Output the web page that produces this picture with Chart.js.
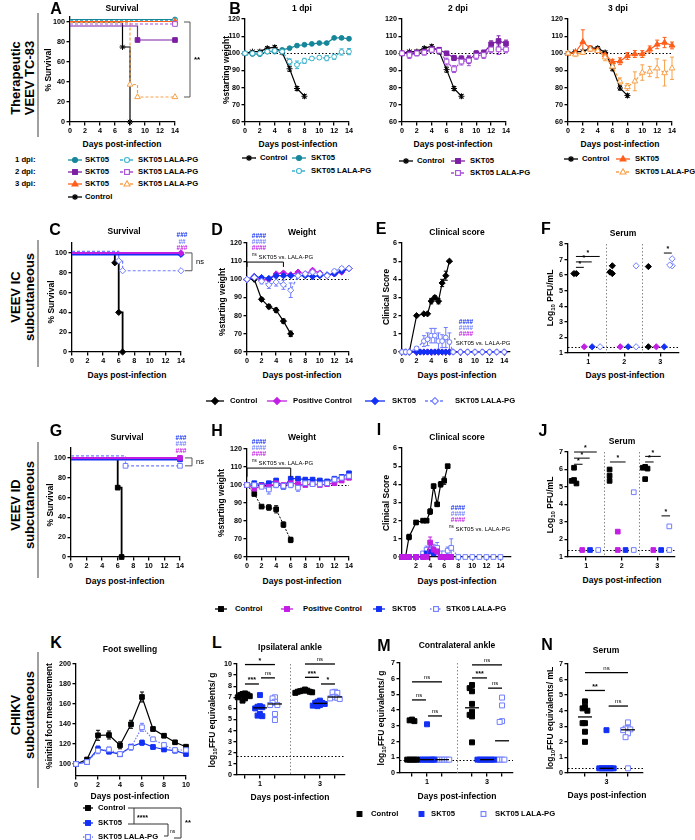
<!DOCTYPE html>
<html>
<head>
<meta charset="utf-8">
<script src="https://cdn.jsdelivr.net/npm/chart.js@4.4.1/dist/chart.umd.min.js"></script>
<style>
  html, body { margin: 0; padding: 0; background: #fff; }
  body { position: relative; width: 695px; height: 840px; overflow: hidden; font-family: "Liberation Sans", Arial, sans-serif; }
  canvas { position: absolute; }
  .t { position: absolute; white-space: nowrap; line-height: 1; color: #000; }
  .t sub { font-size: 70%; vertical-align: -2px; }
  .t sup { font-size: 75%; vertical-align: 3px; }
  .lg { position: absolute; line-height: 0; }
  .bar { position: absolute; width: 1.5px; background: #a0a0a0; }
</style>
</head>
<body>
<script>
// ---- values ----

// A: survival after TC-83 (event days / % alive)
const aCtrlDay = [0, 7, 8],       aCtrlPct = [100, 75, 0];
const a1SktDay = [0, 14],         a1SktPct = [102.5, 102.5];
const a1LalaDay = [0, 14],        a1LalaPct = [101.5, 101.5];
const a2SktDay = [0, 9, 14],      a2SktPct = [96, 82, 82];
const a2LalaDay = [0, 14],        a2LalaPct = [98, 98];
const a3SktDay = [0, 14],         a3SktPct = [100.5, 100.5];
const a3LalaDay = [0, 8, 9, 14],  a3LalaPct = [99.5, 37.5, 25, 25];

// B: % starting weight
const days14 = [0, 1, 2, 3, 4, 5, 6, 7, 8, 9, 10, 11, 12, 13, 14];
const days8 = [0, 1, 2, 3, 4, 5, 6, 7, 8];
const b1Ctrl = [100, 101, 101, 103, 103.5, 100.5, 91, 79.5, 75];
const b1Skt = [100, 99.6, 99.5, 101, 101, 102, 103, 104.5, 105, 105.5, 106, 106, 109, 109, 108.5];
const b1Lala = [100, 100, 100, 101, 101.5, 101, 95.2, 93.3, 95.6, 97, 97.5, 97.2, 98, 100.8, 101];
const b2Ctrl = [100, 101, 101, 103, 104, 101, 90.5, 79.5, 75];
const b2Skt = [100, 100, 100.5, 101, 102.5, 102, 100, 97.3, 97, 96.2, 100, 100.4, 105.3, 107.2, 105.7];
const b2Lala = [100, 99, 100, 100.5, 102, 101.5, 95.2, 90.8, 95.2, 95.8, 98.5, 99, 102.3, 102.3, 102.3];
const b3Ctrl = [100, 101, 101, 103, 103, 100.5, 91.3, 79.8, 75.4];
const b3Skt = [100, 100.6, 106.7, 102.9, 101.9, 99, 95, 95.4, 98.5, 99.6, 99.6, 102.3, 105.2, 106.3, 104.6];
const b3Lala = [100, 99.4, 100.4, 102.3, 101.5, 97.7, 92.3, 83.7, 80.4, 83.7, 88.8, 89.4, 91.3, 88.5, 91.3];
const bCtrlErr = [0, 0.6, 0.8, 0.8, 1, 0.8, 1.5, 1.2, 1];
const b1SktErr = [0, 0.5, 0.5, 0.6, 0.6, 0.6, 0.6, 0.8, 0.8, 0.6, 0.6, 0.8, 0.8, 0.8, 0.8];
const b1LalaErr = [0, 0.8, 0.8, 0.8, 0.8, 0.8, 1.6, 2.2, 1.5, 1, 1, 1.5, 1.5, 1.8, 1.8];
const b2SktErr = [0, 1, 1, 1, 1, 1, 1, 1.5, 1.5, 2, 1.5, 1.5, 2, 3, 2];
const b2LalaErr = [0, 2, 1.5, 1.5, 1.5, 2, 2, 2, 2, 3, 2, 2, 2, 3, 2];
const b3SktErr = [0, 1, 7, 1.5, 1.5, 1.5, 1.5, 2, 2, 2, 2, 2, 2.5, 3, 2];
const b3LalaErr = [0, 1, 1, 1, 1, 2, 2, 2, 2, 5.5, 4.5, 3, 5.5, 7.5, 6.5];

// C: survival VEEV IC
const cCtrlDay = [0, 5.5, 6, 6.5],   cCtrlPct = [100, 90, 40, 0];
const cPosDay = [0, 14],             cPosPct = [100, 100];
const cSktDay = [0, 14],             cSktPct = [98.5, 98.5];
const cLalaDay = [0, 6, 6.5, 14],    cLalaPct = [101.5, 92, 82, 82];

// D: weight VEEV IC
const days6 = [0, 1, 2, 3, 4, 5, 6];
const dCtrl = [100, 100, 89, 85, 83, 77, 70];
const dPos = [100, 101.5, 99.5, 100, 103, 103.5, 102.5, 104, 103, 105, 103.5, 102, 103, 104, 106];
const dSkt = [100, 101.5, 101, 100.5, 102, 102, 102, 102, 102, 101.5, 102, 102.5, 103, 104.5, 106];
const dLala = [100, 101, 99, 97, 98.5, 97, 94, 102, 103, 104, 103, 102, 104.5, 106, 106];
const dCtrlErr = [0, 0.5, 0.8, 1.2, 1.2, 1.2, 1.5];
const dLalaErr = [0, 0.8, 1.5, 2, 2.2, 2.5, 4, 1, 1, 1, 1, 1, 1, 1, 1];

// E: clinical score VEEV IC
const eCtrlDay = [0, 0.5, 1, 2, 3, 3.5, 4, 4.5, 5, 5.5, 6, 6.5];
const eCtrl = [0, 0, 0, 2, 2.1, 2.1, 2.8, 3, 2.8, 3.8, 4.2, 5];
const eCtrlErr = [0, 0, 0, 0, 0, 0, 0.15, 0.1, 0.15, 0.2, 0.25, 0];
const eLalaDay = [0, 0.5, 1, 2, 3, 3.5, 4, 4.5, 5, 5.5, 6, 6.5, 7, 8, 9, 10, 11, 12, 13, 14];
const eLala = [0, 0, 0, 0.2, 0.6, 0.7, 0.9, 0.9, 0.6, 0.6, 0.8, 0.55, 0, 0, 0, 0, 0, 0, 0, 0];
const eLalaErr = [0, 0, 0, 0.1, 0.3, 0.35, 0.4, 0.4, 0.45, 0.35, 0.55, 0.5, 0, 0, 0, 0, 0, 0, 0, 0];
const eZeroDay = [0, 0.5, 1, 2, 2.5, 3, 3.5, 4, 4.5, 5, 5.5, 6, 6.5, 7, 8, 9, 10, 11, 12, 13, 14];
const eZero = [0, 0, 0, 0, 0, 0, 0, 0, 0, 0, 0, 0, 0, 0, 0, 0, 0, 0, 0, 0, 0];

// F: serum titre VEEV IC, per day 1/2/3
const fCtrl = [[6.1, 6.1], [6.6, 6.1, 6.2], [6.55, 1.4]];
const fPos = [[1.4], [1.4], [1.4]];
const fSkt = [[1.4], [1.4], [1.4]];
const fLala = [[1.4], [6.6, 1.4], [7.05, 6.6, 6.65]];

// G: survival VEEV ID
const gCtrlDay = [0, 6, 6.5],    gCtrlPct = [100, 70, 0];
const gPosDay = [0, 14],         gPosPct = [100, 100];
const gSktDay = [0, 14],         gSktPct = [98.5, 98.5];
const gLalaDay = [0, 7, 14],     gLalaPct = [102, 92, 92];

// H: weight VEEV ID
const hCtrl = [100, 95, 88, 87.5, 86.5, 78, 69.5];
const hPos = [100, 98, 99.5, 99, 101, 100, 101, 100.5, 100, 100.5, 100, 100.5, 101, 102.5, 104];
const hSkt = [100, 101, 100, 101, 102.5, 99, 103.5, 103.5, 103, 103, 102.5, 102, 103.5, 104.5, 106.5];
const hLala = [100, 100, 99, 97.5, 100, 99.5, 100, 98.5, 101, 100.5, 100.5, 101, 103, 104, 105];
const hCtrlErr = [0, 0.5, 0.5, 1.5, 2, 1.5, 1.5];
const hLalaErr = [0, 1, 1, 2.5, 1.5, 1, 1.5, 2, 1, 1, 1, 1, 1, 1, 1];

// I: clinical score VEEV ID
const iCtrlDay = [0, 0.5, 1, 2, 3, 3.5, 4, 4.5, 5, 5.5, 6, 6.5];
const iCtrl = [0, 0, 1.1, 1.9, 2, 2, 2.5, 3.9, 2.9, 4, 4.2, 5];
const iCtrlErr = [0, 0, 0.15, 0.1, 0, 0, 0.15, 0.1, 0.1, 0.15, 0.2, 0];
const iMidDay = [0, 0.5, 1, 2, 3, 3.5, 4, 4.5, 5, 5.5, 6, 6.5, 7];
const iPos = [0, 0, 0, 0, 0, 0, 0.8, 0.4, 0.3, 0, 0, 0, 0];
const iPosErr = [0, 0, 0, 0, 0, 0, 0.3, 0.2, 0, 0, 0, 0, 0];
const iSkt = [0, 0, 0, 0, 0, 0.2, 0.3, 0.2, 0.3, 0, 0, 0, 0];
const iLalaDay = [0, 0.5, 1, 2, 3, 3.5, 4, 4.5, 5, 5.5, 6, 6.5, 7, 8, 9, 10, 11, 12, 13, 14];
const iLala = [0, 0, 0, 0, 0.2, 0.4, 0.4, 0.4, 0.5, 0.2, 0.2, 0.35, 0.5, 0, 0, 0, 0, 0, 0, 0];
const iLalaErr = [0, 0, 0, 0, 0.1, 0.2, 0.2, 0.3, 0.3, 0.1, 0.1, 0.2, 0.5, 0, 0, 0, 0, 0, 0, 0];

// J: serum titre VEEV ID
const jCtrl = [[6.1, 5.4, 5.35, 5.2], [6.0, 5.65, 5.35], [6.15, 6.1, 6.05, 5.45]];
const jPos = [[1.4], [2.45, 1.4], [1.4]];
const jSkt = [[1.4], [1.4], [1.4]];
const jLala = [[1.4], [4.7, 1.4], [2.75, 1.4]];

// K: foot swelling CHIKV
const days10 = [0, 1, 2, 3, 4, 5, 6, 7, 8, 9, 10];
const kCtrl = [100, 104.5, 128.7, 129, 118.7, 139.7, 167, 135, 128.3, 121.7, 117.3];
const kSkt = [100, 102, 115, 112.3, 109.7, 117.3, 121.3, 117, 114.5, 113.3, 110];
const kLala = [100, 102, 113.3, 114.5, 110, 116.7, 136.7, 124.7, 119, 114, 114];
const kCtrlErr = [0, 1.5, 5, 4, 3.5, 4, 5, 2, 2, 1.5, 1.5];
const kSktErr = [0, 1.5, 3, 2, 2, 2, 2.5, 2, 2, 2, 2];
const kLalaErr = [0, 1.5, 3, 2.5, 2, 3, 4, 2, 2, 2, 2];

// L: ipsilateral ankle (day 1, day 3)
const lCtrl = [[7.35, 7.3, 7.25, 7.2, 7.1, 7.0, 6.9, 6.7], [7.7, 7.6, 7.6, 7.55, 7.5, 7.5, 7.45, 7.4]];
const lSkt = [[7.2, 6.2, 6.15, 6.1, 6.0, 5.5, 5.35, 5.3], [6.7, 6.6, 6.5, 6.5, 6.4, 6.3, 6.25, 6.2]];
const lLala = [[7.0, 6.9, 6.6, 6.5, 6.3, 6.3, 5.5, 4.95], [7.5, 7.45, 7.4, 7.05, 7.0, 6.95, 6.9, 6.85]];

// M: contralateral ankle
const mCtrl = [[3.4, 3.35, 3.3, 0.85, 0.85, 0.85, 0.85, 0.85], [5.6, 5.4, 5.2, 4.4, 3.9, 3.7, 3.6, 1.95]];
const mSkt = [[3.1, 0.85, 0.85, 0.85, 0.85, 0.85, 0.85, 0.85], [0.85, 0.85, 0.85, 0.85, 0.85, 0.85, 0.85, 0.85]];
const mLala = [[0.85, 0.85, 0.85, 0.85, 0.85, 0.85, 0.85, 0.85], [4.8, 4.3, 3.3, 3.25, 0.85, 0.85, 0.85, 0.85]];

// N: serum CHIKV day 3
const nCtrl = [4.6, 4.25, 4.15, 4.0, 3.2, 3.2, 2.65, 2.0];
const nSkt = [2.75, 0.3, 0.3, 0.3, 0.3, 0.3, 0.3, 0.3];
const nLala = [3.25, 2.9, 2.85, 2.8, 2.75, 2.55, 2.3, 0.3];

// tick values / labels
const tk14 = [0, 2, 4, 6, 8, 10, 12, 14];
const tkI = [2, 4, 6, 8, 10, 12, 14];
const tkSurv = [0, 20, 40, 60, 80, 100];
const tkWeight = [60, 70, 80, 90, 100, 110, 120];
const tkScore = [0, 1, 2, 3, 4, 5, 6];
const tkDpi = [1, 2, 3];
const tkPfuF = [1, 2, 3, 4, 5, 6, 7, 8];
const tkPfuJ = [1, 2, 3, 4, 5, 6, 7];
const tkFootX = [0, 2, 4, 6, 8, 10];
const tkFoot = [100, 120, 140, 160, 180, 200];
const tkAnkleX = [1, 2, 3, 5, 6, 7];
const lbAnkleX = ['', '1', '', '', '3', ''];
const tkL = [0, 1, 2, 3, 4, 5, 6, 7, 8, 9, 10];
const tk7 = [0, 1, 2, 3, 4, 5, 6, 7];
const lbN = ['', '3', ''];

// ---- drawing ----
const FONT = '"Liberation Sans", Arial, sans-serif';
Chart.defaults.font.family = FONT;

const C_T = '#16879b', C_TL = '#3db4cc';
const C_P = '#7c1fa3', C_PL = '#a64fd8';
const C_O = '#ff5e1a', C_OL = '#f8a048';
const C_M = '#c21ee3', C_B = '#1230f5', C_BL = '#6f7dff';

const extras = {
  id: 'extras',
  beforeDatasetsDraw(chart, args, o) {
    const { ctx, chartArea: a, scales: { x, y } } = chart;
    ctx.save();
    ctx.lineWidth = 1;
    ctx.setLineDash([1.5, 2]);
    ctx.strokeStyle = '#000';
    (o.hl || []).forEach(v => {
      const py = Math.round(y.getPixelForValue(v)) + 0.5;
      ctx.beginPath(); ctx.moveTo(a.left, py); ctx.lineTo(a.right, py); ctx.stroke();
    });
    ctx.strokeStyle = '#888';
    (o.vl || []).forEach(v => {
      const px = Math.round(x.getPixelForValue(v)) + 0.5;
      ctx.beginPath(); ctx.moveTo(px, a.top); ctx.lineTo(px, a.bottom); ctx.stroke();
    });
    ctx.setLineDash([]);
    chart.data.datasets.forEach(ds => {
      if (!ds.errors) return;
      ctx.strokeStyle = ds.borderColor;
      ds.data.forEach((p, j) => {
        const e = ds.errors[j];
        if (!e) return;
        const px = x.getPixelForValue(p.x), t = y.getPixelForValue(p.y + e), b = y.getPixelForValue(p.y - e);
        ctx.beginPath();
        ctx.moveTo(px, t); ctx.lineTo(px, b);
        ctx.moveTo(px - 2, t); ctx.lineTo(px + 2, t);
        ctx.moveTo(px - 2, b); ctx.lineTo(px + 2, b);
        ctx.stroke();
      });
    });
    ctx.restore();
  },
  afterDatasetsDraw(chart, args, o) {
    const { ctx, chartArea: a, scales: { x, y } } = chart;
    ctx.save();
    ctx.strokeStyle = '#000';
    ctx.fillStyle = '#000';
    ctx.lineWidth = 1.3;
    (o.md || []).forEach(m => {
      const px = x.getPixelForValue(m.x), py = y.getPixelForValue(m.y);
      ctx.beginPath(); ctx.moveTo(px - 7, py); ctx.lineTo(px + 7, py); ctx.stroke();
    });
    ctx.lineWidth = o.sw || 1;
    ctx.textAlign = 'center';
    ctx.textBaseline = 'bottom';
    (o.sig || []).forEach(s => {
      const x1 = x.getPixelForValue(s.x1), x2 = x.getPixelForValue(s.x2), py = y.getPixelForValue(s.y);
      ctx.beginPath();
      if (s.tk) {
        const pt = y.getPixelForValue(s.y - s.tk);
        ctx.moveTo(x1, pt); ctx.lineTo(x1, py); ctx.lineTo(x2, py); ctx.lineTo(x2, pt);
      } else {
        ctx.moveTo(x1, py); ctx.lineTo(x2, py);
      }
      ctx.stroke();
      if (s.t) {
        ctx.font = (s.t === 'ns' ? '6px ' : 'bold 7px ') + FONT;
        ctx.fillText(s.t, (x1 + x2) / 2, py - (s.t === 'ns' ? 1.5 : 0));
      }
    });
    ctx.strokeStyle = '#555';
    ctx.lineWidth = 1;
    ctx.textAlign = 'left';
    ctx.textBaseline = 'middle';
    (o.vbr || []).forEach(b => {
      const px = a.right + b.dx, y1 = y.getPixelForValue(b.y1), y2 = y.getPixelForValue(b.y2);
      ctx.beginPath();
      ctx.moveTo(px, y1); ctx.lineTo(px + b.w, y1); ctx.lineTo(px + b.w, y2); ctx.lineTo(px, y2);
      ctx.stroke();
      ctx.font = (b.t === 'ns' ? '7.5px ' : 'bold 8px ') + FONT;
      ctx.fillText(b.t, px + b.w + 4, (y1 + y2) / 2);
    });
    ctx.restore();
  }
};
Chart.register(extras);

function pts(xs, ys) { return xs.map((x, i) => ({ x: x, y: ys[i] })); }

const RAD = { circle: 2.4, rect: 3.3, rectRot: 3.1, triangle: 3.3, star: 3 };

function ser(xs, ys, st) {
  const r = st.r || RAD[st.shape] || 3;
  return {
    data: pts(xs, ys),
    borderColor: st.c,
    backgroundColor: st.c,
    borderWidth: st.lw || 1.2,
    borderDash: st.dash || [],
    pointStyle: st.shape,
    pointRadius: st.skip0 ? (c => c.dataIndex === 0 ? 0 : r) : r,
    pointBorderWidth: 1,
    pointBackgroundColor: st.open ? '#fff' : st.c,
    pointBorderColor: st.c,
    showLine: st.line !== false,
    stepped: st.step ? 'before' : false,
    tension: 0,
    clip: false,
    errors: st.err || null
  };
}

// spread points of one group sideways so they do not sit on each other
function swarm(xc, vals, dxU, dyU) {
  const placed = [];
  const order = [0, -1, 1, -2, 2, -3, 3, -4, 4, -5, 5];
  return vals.map(v => {
    let px = xc;
    for (const k of order) {
      const cx = xc + k * dxU;
      if (!placed.some(p => Math.abs(p.y - v) < dyU && Math.abs(p.x - cx) < dxU * 0.99)) { px = cx; break; }
    }
    const p = { x: px, y: v };
    placed.push(p);
    return p;
  });
}

function dots(centers, groups, st, g, xs, ys) {
  const dxU = 2.4 * (xs.max - xs.min) / (g.x1 - g.x0);
  const dyU = 4.2 * (ys.max - ys.min) / (g.y1 - g.y0);
  const d = ser([], [], Object.assign({ line: false }, st));
  groups.forEach((vals, k) => swarm(centers[k], vals, dxU, dyU).forEach(p => d.data.push(p)));
  return d;
}

function median(v) {
  const s = v.slice().sort((a, b) => a - b), n = s.length;
  return n % 2 ? s[(n - 1) / 2] : (s[n / 2 - 1] + s[n / 2]) / 2;
}
function medians(centers, groups) { return groups.map((v, k) => ({ x: centers[k], y: median(v) })); }

function axis(s, pos, size) {
  return {
    type: 'linear', position: pos, min: s.min, max: s.max,
    border: { display: true, color: '#000', width: 1.3 },
    grid: { drawOnChartArea: false, drawTicks: true, tickLength: 3.5, color: '#000', lineWidth: 1.3 },
    ticks: {
      color: '#000', font: { size: 7.2, weight: 'bold' }, padding: 1.5, autoSkip: false, maxRotation: 0,
      callback: (v, i) => s.labels ? s.labels[i] : v
    },
    afterBuildTicks: sc => { sc.ticks = s.ticks.map(v => ({ value: v })); },
    afterFit: sc => {
      if (pos === 'bottom') sc.height = size; else sc.width = size;
      sc.paddingLeft = sc.paddingRight = sc.paddingTop = sc.paddingBottom = 0;
    }
  };
}

function plot(g, datasets, xs, ys, ex, pad) {
  pad = Object.assign({ L: 30, R: 12, T: 10, B: 16 }, pad || {});
  const x0 = Math.round(g.x0), x1 = Math.round(g.x1), y0 = Math.round(g.y0), y1 = Math.round(g.y1);
  const w = x1 - x0 + pad.L + pad.R, h = y1 - y0 + pad.T + pad.B;
  const cv = document.createElement('canvas');
  cv.width = w; cv.height = h;
  cv.style.left = (x0 - pad.L) + 'px';
  cv.style.top = (y0 - pad.T) + 'px';
  document.body.appendChild(cv);
  new Chart(cv, {
    type: 'line',
    data: { datasets: datasets },
    options: {
      responsive: false, animation: false, devicePixelRatio: 1, events: [],
      layout: { padding: { left: 0, top: pad.T, right: pad.R, bottom: 0 } },
      plugins: { legend: { display: false }, tooltip: { enabled: false }, extras: ex || {} },
      scales: { x: axis(xs, 'bottom', pad.B), y: axis(ys, 'left', pad.L) }
    }
  });
}

function T(html, x, y, o) {
  o = o || {};
  const d = document.createElement('div');
  d.className = 't';
  d.innerHTML = html;
  d.style.left = x + 'px';
  d.style.top = y + 'px';
  d.style.fontSize = (o.s || 8.5) + 'px';
  d.style.fontWeight = o.n ? 'normal' : 'bold';
  if (o.c) d.style.color = o.c;
  d.style.transform = (o.a === 'l' ? 'translate(0,-50%)' : 'translate(-50%,-50%)') + (o.r ? ' rotate(-90deg)' : '');
  document.body.appendChild(d);
}

function mk(st, w) {
  const c = st.c, f = st.open ? '#fff' : c, m = w / 2;
  let s = '';
  if (st.line !== false) s += `<line x1="0" y1="5" x2="${w}" y2="5" stroke="${c}" stroke-width="1.3"${st.dash ? ` stroke-dasharray="${st.dash.join(' ')}"` : ''}/>`;
  const a = `fill="${f}" stroke="${c}" stroke-width="1.1"`;
  if (st.shape === 'circle') s += `<circle cx="${m}" cy="5" r="2.5" ${a}/>`;
  else if (st.shape === 'rect') s += `<rect x="${m - 2.4}" y="2.6" width="4.8" height="4.8" ${a}/>`;
  else if (st.shape === 'triangle') s += `<polygon points="${m},1.8 ${m + 3},7 ${m - 3},7" ${a}/>`;
  else if (st.shape === 'rectRot') s += `<polygon points="${m},1.6 ${m + 3.4},5 ${m},8.4 ${m - 3.4},5" ${a}/>`;
  else if (st.shape === 'star') s += `<path d="M${m - 3} 5H${m + 3}M${m} 2V8M${m - 2.2} 2.8L${m + 2.2} 7.2M${m + 2.2} 2.8L${m - 2.2} 7.2" stroke="${c}" stroke-width="1.2"/>`;
  return `<svg width="${w}" height="10">${s}</svg>`;
}

function leg(x, y, st, text, w, tx) {
  const d = document.createElement('div');
  d.className = 'lg';
  d.style.left = x + 'px';
  d.style.top = (y - 5) + 'px';
  d.innerHTML = mk(st, w);
  document.body.appendChild(d);
  T(text, tx, y, { s: 7.7, a: 'l' });
}

function bar(x, y1, y2) {
  const d = document.createElement('div');
  d.className = 'bar';
  d.style.left = x + 'px'; d.style.top = y1 + 'px'; d.style.height = (y2 - y1) + 'px';
  document.body.appendChild(d);
}

// styles
const sCtrlStar = { c: '#000', shape: 'star' };
const s1Skt = { c: C_T, shape: 'circle' }, s1Lala = { c: C_TL, shape: 'circle', open: true, dash: [3, 2] };
const s2Skt = { c: C_P, shape: 'rect' }, s2Lala = { c: C_PL, shape: 'rect', open: true, dash: [3, 2] };
const s3Skt = { c: C_O, shape: 'triangle' }, s3Lala = { c: C_OL, shape: 'triangle', open: true, dash: [3, 2] };
const sCtrlD = { c: '#000', shape: 'rectRot' }, sPosD = { c: C_M, shape: 'rectRot' };
const sSktD = { c: C_B, shape: 'rectRot' }, sLalaD = { c: C_BL, shape: 'rectRot', open: true, dash: [3, 2] };
const sCtrlS = { c: '#000', shape: 'rect' }, sPosS = { c: C_M, shape: 'rect' };
const sSktS = { c: C_B, shape: 'rect' }, sLalaS = { c: C_BL, shape: 'rect', open: true, dash: [1.5, 1.5] };
const st = (base, more) => Object.assign({}, base, more);

// ---- row 1: therapeutic TC-83 ----
const xs14 = { min: 0, max: 14, ticks: tk14 };
const ysW = { min: 60, max: 120, ticks: tkWeight };
const GA = { x0: 70, x1: 175, y0: 17, y1: 122 };
plot(GA, [
  ser(a2LalaDay, a2LalaPct, st(s2Lala, { step: 1, skip0: 1 })),
  ser(a2SktDay, a2SktPct, st(s2Skt, { step: 1, skip0: 1 })),
  ser(a3LalaDay, a3LalaPct, st(s3Lala, { step: 1, skip0: 1 })),
  ser(a3SktDay, a3SktPct, st(s3Skt, { step: 1, skip0: 1 })),
  ser(a1LalaDay, a1LalaPct, st(s1Lala, { step: 1, skip0: 1 })),
  ser(a1SktDay, a1SktPct, st(s1Skt, { step: 1, skip0: 1 })),
  ser(aCtrlDay, aCtrlPct, st(sCtrlStar, { step: 1, skip0: 1 }))
], xs14, { min: 0, max: 105, ticks: tkSurv }, { vbr: [{ y1: 100, y2: 25, dx: 9, w: 6, t: '**' }] }, { R: 34 });

const GB = [{ x0: 245, x1: 349 }, { x0: 402, x1: 506 }, { x0: 568, x1: 672 }];
const bSets = [
  [b1Ctrl, b1Skt, b1Lala, b1SktErr, b1LalaErr, s1Skt, s1Lala],
  [b2Ctrl, b2Skt, b2Lala, b2SktErr, b2LalaErr, s2Skt, s2Lala],
  [b3Ctrl, b3Skt, b3Lala, b3SktErr, b3LalaErr, s3Skt, s3Lala]
];
bSets.forEach((b, k) => {
  plot({ x0: GB[k].x0, x1: GB[k].x1, y0: 19, y1: 122 }, [
    ser(days14, b[2], st(b[6], { err: b[4] })),
    ser(days14, b[1], st(b[5], { err: b[3] })),
    ser(days8, b[0], st(sCtrlStar, { err: bCtrlErr }))
  ], xs14, ysW, { hl: [100] });
});

// ---- row 2: VEEV IC ----
plot({ x0: 72, x1: 181, y0: 243, y1: 352 }, [
  ser(cPosDay, cPosPct, st(sPosD, { step: 1, skip0: 1, lw: 2 })),
  ser(cSktDay, cSktPct, st(sSktD, { step: 1, skip0: 1, lw: 2 })),
  ser(cLalaDay, cLalaPct, st(sLalaD, { step: 1, skip0: 1 })),
  ser(cCtrlDay, cCtrlPct, st(sCtrlD, { step: 1, skip0: 1, lw: 1.8 }))
], xs14, { min: 0, max: 110, ticks: tkSurv }, { vbr: [{ y1: 100, y2: 82, dx: 4, w: 7, t: 'ns' }] }, { R: 34 });

plot({ x0: 247, x1: 349, y0: 243, y1: 352 }, [
  ser(days14, dLala, st(sLalaD, { err: dLalaErr })),
  ser(days14, dSkt, st(sSktD, { err: days14.map(() => 0.6) })),
  ser(days14, dPos, st(sPosD, { err: days14.map(() => 0.6) })),
  ser(days6, dCtrl, st(sCtrlD, { err: dCtrlErr }))
], xs14, ysW, { hl: [100], sig: [{ x1: 0, x2: 5, y: 109.5, tk: 2.7 }] });

plot({ x0: 402, x1: 510, y0: 243, y1: 352 }, [
  ser(eLalaDay, eLala, st(sLalaD, { shape: 'circle', err: eLalaErr })),
  ser(eZeroDay, eZero, sSktD),
  ser(eZeroDay, eZero, sPosD),
  ser(eCtrlDay, eCtrl, st(sCtrlD, { err: eCtrlErr }))
], { min: 0, max: 14.8, ticks: tk14 }, { min: 0, max: 6, ticks: tkScore });

const xsF = { min: 0.44, max: 3.52, ticks: tkDpi };
const ysF = { min: 1, max: 8, ticks: tkPfuF };
const GF = { x0: 568, x1: 679, y0: 244, y1: 353 };
plot(GF, [
  dots([0.67, 1.67, 2.67], fCtrl, sCtrlD, GF, xsF, ysF),
  dots([0.89, 1.89, 2.89], fPos, sPosD, GF, xsF, ysF),
  dots([1.11, 2.11, 3.11], fSkt, sSktD, GF, xsF, ysF),
  dots([1.33, 2.33, 3.33], fLala, sLalaD, GF, xsF, ysF)
], xsF, ysF, {
  hl: [1.4], vl: [1.5, 2.5],
  sig: [{ x1: 0.66, x2: 0.88, y: 6.5, t: '*' }, { x1: 0.66, x2: 1.1, y: 6.85, t: '*' },
        { x1: 0.66, x2: 1.32, y: 7.2, t: '*' }, { x1: 3.1, x2: 3.32, y: 7.42, t: '*' }]
});

// ---- row 3: VEEV ID ----
plot({ x0: 71, x1: 180, y0: 448, y1: 557 }, [
  ser(gPosDay, gPosPct, st(sPosS, { step: 1, skip0: 1, lw: 2 })),
  ser(gSktDay, gSktPct, st(sSktS, { step: 1, skip0: 1, lw: 2 })),
  ser(gLalaDay, gLalaPct, st(sLalaS, { step: 1, skip0: 1, dash: [3, 2] })),
  ser(gCtrlDay, gCtrlPct, st(sCtrlS, { step: 1, skip0: 1, lw: 1.8 }))
], xs14, { min: 0, max: 110, ticks: tkSurv }, { vbr: [{ y1: 100, y2: 92, dx: 5, w: 7, t: 'ns' }] }, { R: 34 });

plot({ x0: 247, x1: 349, y0: 449, y1: 557 }, [
  ser(days14, hLala, st(sLalaS, { err: hLalaErr })),
  ser(days14, hPos, st(sPosS, { err: days14.map(() => 0.8) })),
  ser(days14, hSkt, st(sSktS, { err: days14.map(() => 0.8) })),
  ser(days6, hCtrl, st(sCtrlS, { err: hCtrlErr, lw: 1, dash: [2, 1.5] }))
], xs14, ysW, { hl: [100], sig: [{ x1: 0, x2: 6, y: 109.4, tk: 4.8 }] });

plot({ x0: 402, x1: 511, y0: 448, y1: 557 }, [
  ser(iMidDay, iPos, st(sPosS, { err: iPosErr })),
  ser(iMidDay, iSkt, sSktS),
  ser(iLalaDay, iLala, st(sLalaS, { err: iLalaErr })),
  ser(iCtrlDay, iCtrl, st(sCtrlS, { err: iCtrlErr }))
], { min: 0, max: 15.5, ticks: tkI }, { min: 0, max: 6, ticks: tkScore });

const xsJ = { min: 0.49, max: 3.5, ticks: tkDpi };
const ysJ = { min: 1, max: 7, ticks: tkPfuJ };
const GJ = { x0: 568, x1: 675, y0: 452, y1: 557 };
plot(GJ, [
  dots([0.66, 1.66, 2.66], jCtrl, sCtrlS, GJ, xsJ, ysJ),
  dots([0.89, 1.89, 2.89], jPos, sPosS, GJ, xsJ, ysJ),
  dots([1.11, 2.11, 3.11], jSkt, sSktS, GJ, xsJ, ysJ),
  dots([1.34, 2.34, 3.34], jLala, sLalaS, GJ, xsJ, ysJ)
], xsJ, ysJ, {
  hl: [1.4], vl: [1.5, 2.5],
  sig: [{ x1: 0.66, x2: 0.9, y: 6.3, t: '*' }, { x1: 0.66, x2: 1.1, y: 6.65, t: '*' },
        { x1: 0.66, x2: 1.3, y: 7.0, t: '*' }, { x1: 1.67, x2: 2.11, y: 6.43, t: '*' },
        { x1: 2.66, x2: 2.9, y: 6.43, t: '*' }, { x1: 2.66, x2: 3.1, y: 6.75, t: '*' },
        { x1: 3.12, x2: 3.36, y: 3.35, t: '*' }]
});

// ---- row 4: CHIKV ----
plot({ x0: 76, x1: 186, y0: 664, y1: 776 }, [
  ser(days10, kLala, st(sLalaS, { err: kLalaErr })),
  ser(days10, kSkt, st(sSktS, { err: kSktErr })),
  ser(days10, kCtrl, st(sCtrlS, { err: kCtrlErr }))
], { min: 0, max: 10, ticks: tkFootX }, { min: 88, max: 200, ticks: tkFoot });

const cAnkle = [[1, 5], [2, 6], [3, 7]];
const xsL = { min: 0.47, max: 7.67, ticks: tkAnkleX, labels: lbAnkleX };
const ysL = { min: 0, max: 10, ticks: tkL };
const GL = { x0: 237, x1: 345, y0: 664, y1: 775 };
const dotS = { r: 3.5 };
plot(GL, [
  dots(cAnkle[0], lCtrl, st(sCtrlS, dotS), GL, xsL, ysL),
  dots(cAnkle[1], lSkt, st(sSktS, dotS), GL, xsL, ysL),
  dots(cAnkle[2], lLala, st(sLalaS, dotS), GL, xsL, ysL)
], xsL, ysL, {
  hl: [1.7], vl: [4],
  md: [].concat(medians(cAnkle[0], lCtrl), medians(cAnkle[1], lSkt), medians(cAnkle[2], lLala)),
  sw: 1.3,
  sig: [{ x1: 1, x2: 3, y: 9.95, t: '*' }, { x1: 1, x2: 1.93, y: 8.2, t: '***' }, { x1: 2.07, x2: 3, y: 8.75, t: 'ns' },
        { x1: 5, x2: 7, y: 10, t: 'ns' }, { x1: 5, x2: 5.93, y: 8.8, t: '***' }, { x1: 6.07, x2: 7, y: 8.2, t: '*' }]
});

const xsM = { min: 0.2, max: 7.73, ticks: tkAnkleX, labels: lbAnkleX };
const ysM = { min: 0, max: 7, ticks: tk7 };
const GM = { x0: 400, x1: 513, y0: 663, y1: 773 };
plot(GM, [
  dots(cAnkle[0], mCtrl, st(sCtrlS, dotS), GM, xsM, ysM),
  dots(cAnkle[1], mSkt, st(sSktS, dotS), GM, xsM, ysM),
  dots(cAnkle[2], mLala, st(sLalaS, dotS), GM, xsM, ysM)
], xsM, ysM, {
  hl: [0.85], vl: [4],
  md: [].concat(medians(cAnkle[0], mCtrl), medians(cAnkle[1], mSkt), medians(cAnkle[2], mLala)),
  sw: 1.3,
  sig: [{ x1: 1, x2: 3, y: 5.8, t: 'ns' }, { x1: 1, x2: 1.93, y: 4.65, t: 'ns' }, { x1: 2.07, x2: 3, y: 3.63, t: 'ns' },
        { x1: 5, x2: 7, y: 6.88, t: 'ns' }, { x1: 5, x2: 6, y: 6.05, t: '***' }, { x1: 6.07, x2: 7, y: 5.4, t: 'ns' }]
});

const xsN = { min: 0.21, max: 3.7, ticks: tkDpi, labels: lbN };
const ysN = { min: 0, max: 7, ticks: tk7 };
const GN = { x0: 568, x1: 643, y0: 664, y1: 773 };
plot(GN, [
  dots([1], [nCtrl], st(sCtrlS, dotS), GN, xsN, ysN),
  dots([2], [nSkt], st(sSktS, dotS), GN, xsN, ysN),
  dots([3], [nLala], st(sLalaS, dotS), GN, xsN, ysN)
], xsN, ysN, {
  hl: [0.3],
  md: [].concat(medians([1], [nCtrl]), medians([2], [nSkt]), medians([3], [nLala])),
  sw: 1.3,
  sig: [{ x1: 1, x2: 3, y: 6.45, t: 'ns' }, { x1: 1, x2: 1.93, y: 5.3, t: '**' }, { x1: 2.1, x2: 3, y: 4.3, t: 'ns' }]
});

// ---- text: row labels, letters, titles, axis titles ----
bar(37, 13, 137); bar(37, 240, 367); bar(37, 442, 578); bar(37, 652, 788);
T('Therapeutic', 15, 78, { s: 13, r: 1 }); T('VEEV TC-83', 29, 78, { s: 13, r: 1 });
T('VEEV IC', 15, 297, { s: 13, r: 1 }); T('subcutaneous', 29, 297, { s: 13, r: 1 });
T('VEEV ID', 15, 505, { s: 13, r: 1 }); T('subcutaneous', 29, 505, { s: 13, r: 1 });
T('CHIKV', 15, 715, { s: 13, r: 1 }); T('subcutaneous', 29, 715, { s: 13, r: 1 });

[['A', 56, 9], ['B', 235, 9], ['C', 55, 230], ['D', 217, 230], ['E', 381, 229], ['F', 546, 229],
 ['G', 56, 431], ['H', 217, 431], ['I', 379, 430], ['J', 543, 431], ['K', 56, 643], ['L', 217, 643],
 ['M', 384, 646], ['N', 547, 645]].forEach(l => T(l[0], l[1], l[2], { s: 16 }));

[['Survival', 122, 8], ['1 dpi', 302, 8], ['2 dpi', 458, 8], ['3 dpi', 618, 8],
 ['Survival', 124, 231], ['Weight', 302, 232], ['Clinical score', 457, 232], ['Serum', 623, 233],
 ['Survival', 127, 437], ['Weight', 302, 437], ['Clinical score', 457, 437], ['Serum', 622, 441],
 ['Foot swelling', 130, 649], ['Ipsilateral ankle', 290, 647], ['Contralateral ankle', 457, 645], ['Serum', 606, 650]
].forEach(l => T(l[0], l[1], l[2]));

[[122, 144], [298, 144], [453, 144], [620, 144], [127, 375], [302, 375], [457, 375], [625, 375],
 [125, 581], [302, 581], [457, 581], [622, 580], [130, 796], [290, 797], [457, 796], [607, 795]
].forEach(p => T('Days post-infection', p[0], p[1]));

const pfu = 'Log<sub>10</sub> PFU/mL';
const ffu = 'log<sub>10</sub>FFU equivalents/ ';
[['% Survival', 48, 70], ['%starting weight', 226, 70], ['% Survival', 51, 302], ['%starting weight', 222, 302],
 ['Clinical Score', 386, 297], [pfu, 551, 298], ['% Survival', 50, 505], ['%starting weight', 221, 503],
 ['Clinical Score', 386, 503], [pfu, 551, 505], ['%initial foot measurement', 49, 716],
 [ffu + 'g', 213, 720], [ffu + 'g', 382, 718], [ffu + 'mL', 551, 718]
].forEach(l => T(l[0], l[1], l[2], { r: 1 }));

// significance notes
T('###', 182, 235, { s: 6.5, c: C_B }); T('##', 182, 242, { s: 6.5, c: C_BL }); T('###', 182, 248, { s: 6.5, c: C_M });
T('###', 181, 438, { s: 6.5, c: C_B }); T('###', 181, 444, { s: 6.5, c: C_BL }); T('###', 181, 451, { s: 6.5, c: C_M });
T('####', 259, 236, { s: 6.5, c: C_B }); T('####', 259, 242, { s: 6.5, c: C_BL }); T('####', 259, 248, { s: 6.5, c: C_M });
T('<sup>ns</sup> SKT05 vs. LALA-PG', 252, 256, { s: 6, n: 1, a: 'l' });
T('####', 259, 442, { s: 6.5, c: C_B }); T('####', 259, 448, { s: 6.5, c: C_BL }); T('####', 259, 454, { s: 6.5, c: C_M });
T('<sup>ns</sup> SKT05 vs. LALA-PG', 252, 462, { s: 6, n: 1, a: 'l' });
T('####', 466, 322, { s: 6.5, c: C_B }); T('####', 466, 328, { s: 6.5, c: C_BL }); T('####', 466, 334, { s: 6.5, c: C_M });
T('<sup>*</sup>SKT05 vs. LALA-PG', 454, 342, { s: 6, n: 1, a: 'l' });
T('####', 458, 508, { s: 6.5, c: C_B }); T('####', 458, 514, { s: 6.5, c: C_BL }); T('####', 458, 520, { s: 6.5, c: C_M });
T('<sup>ns</sup> SKT05 vs. LALA-PG', 449, 528, { s: 6, n: 1, a: 'l' });

// ---- legends ----
T('1 dpi:', 15, 160, { s: 7.7, a: 'l' }); T('2 dpi:', 15, 172, { s: 7.7, a: 'l' }); T('3 dpi:', 15, 184, { s: 7.7, a: 'l' });
leg(68, 160, s1Skt, 'SKT05', 14, 85); leg(120, 160, s1Lala, 'SKT05 LALA-PG', 14, 138);
leg(68, 172, s2Skt, 'SKT05', 14, 85); leg(120, 172, s2Lala, 'SKT05 LALA-PG', 14, 138);
leg(68, 184, s3Skt, 'SKT05', 14, 85); leg(120, 184, s3Lala, 'SKT05 LALA-PG', 14, 138);
leg(68, 197, sCtrlStar, 'Control', 14, 85);

[[242, 292, 158, 171, s1Skt, s1Lala], [399, 451, 161, 173, s2Skt, s2Lala], [564, 616, 159, 172, s3Skt, s3Lala]].forEach(b => {
  leg(b[0], b[2], sCtrlStar, 'Control', 14, b[0] + 18);
  leg(b[1], b[2], b[4], 'SKT05', 14, b[1] + 19);
  leg(b[1], b[3], b[5], 'SKT05 LALA-PG', 14, b[1] + 19);
});

leg(206, 401, sCtrlD, 'Control', 18, 230); leg(267, 401, sPosD, 'Positive Control', 20, 293);
leg(365, 401, sSktD, 'SKT05', 20, 392); leg(425, 401, sLalaD, 'SKT05 LALA-PG', 20, 455);

leg(215, 609, sCtrlS, 'Control', 12, 235); leg(281, 609, sPosS, 'Positive Control', 12, 303);
leg(373, 609, sSktS, 'SKT05', 12, 392); leg(430, 609, sLalaS, 'STK05 LALA-PG', 12, 446);

leg(83, 808, sCtrlS, 'Control', 10, 98); leg(83, 823, sSktS, 'SKT05', 10, 98); leg(83, 837, sLalaS, 'SKT05 LALA-PG', 10, 98);
leg(356, 814, st(sCtrlS, { line: false }), 'Control', 7, 371);
leg(418, 814, st(sSktS, { line: false }), 'SKT05', 7, 431);
leg(480, 814, st(sLalaS, { line: false }), 'SKT05 LALA-PG', 7, 495);

// K legend brackets
const br = document.createElement('div');
br.style.cssText = 'position:absolute;left:0;top:0;';
br.innerHTML = '<svg width="200" height="840" style="position:absolute;left:0;top:0">' +
  '<path d="M128 808H134V824H128M134 824H168V836H164M134 808H181V838H174" fill="none" stroke="#333" stroke-width="1"/></svg>';
document.body.appendChild(br);
T('****', 137, 817, { s: 7, a: 'l' });
T('ns', 170, 831, { s: 5, n: 1, a: 'l' });
T('**', 185, 823, { s: 7.5, a: 'l' });
</script>
</body>
</html>
